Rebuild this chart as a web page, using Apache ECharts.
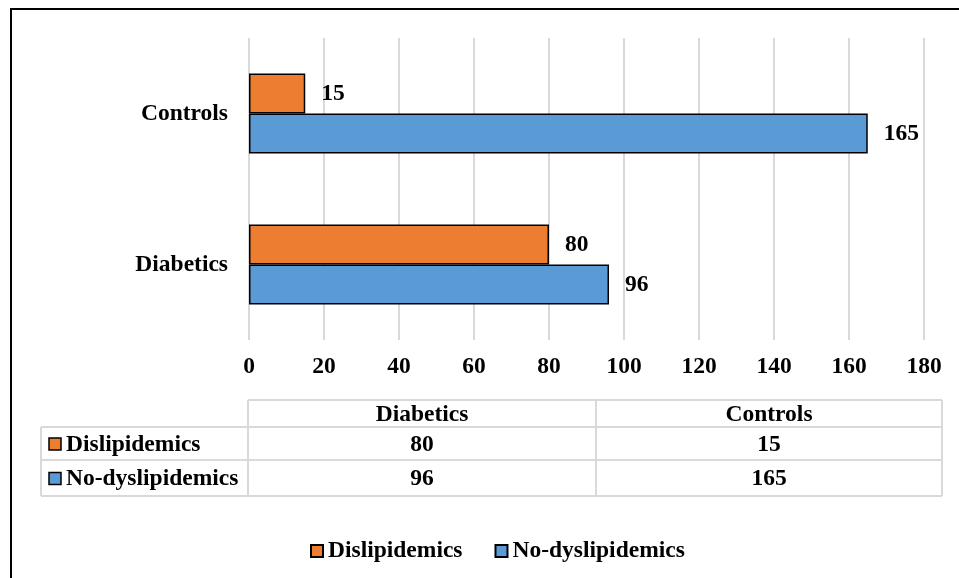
<!DOCTYPE html>
<html>
<head>
<meta charset="utf-8">
<script src="https://cdn.jsdelivr.net/npm/echarts@6/dist/echarts.min.js"></script>
<style>
  html, body { margin: 0; padding: 0; background: #fff; }
  #chart { width: 959px; height: 578px; }
</style>
</head>
<body>
<div id="chart"></div>
<script>
const categories = ['Diabetics', 'Controls'];
const seriesNames = ['Dislipidemics', 'No-dyslipidemics'];
const dislipidemics = [80, 15];
const noDyslipidemics = [96, 165];
const colors = ['#ED7D31', '#5B9BD5'];

const font = 'Liberation Serif, Times New Roman, serif';
const fs = 23.5;

let myChart = echarts.init(document.getElementById('chart'));

// data table under the chart
const colEdges = [41, 248, 596, 942];
const rowEdges = [400, 427, 460, 496];
const gridColor = '#d9d9d9';
let table = [];
function line(x1, y1, x2, y2) {
  table.push({ type: 'line', shape: { x1: x1, y1: y1, x2: x2, y2: y2 }, style: { stroke: gridColor, lineWidth: 2 } });
}
line(colEdges[1], rowEdges[0], colEdges[3], rowEdges[0]);
for (let i = 1; i < rowEdges.length; i++) line(colEdges[0], rowEdges[i], colEdges[3], rowEdges[i]);
line(colEdges[0], rowEdges[1], colEdges[0], rowEdges[3]);
for (let i = 1; i < colEdges.length; i++) line(colEdges[i], rowEdges[0], colEdges[i], rowEdges[3]);

function cellText(txt, x, y, align) {
  table.push({
    type: 'text', x: x, y: y,
    style: { text: txt, font: 'bold ' + fs + 'px ' + font, fill: '#000', align: align || 'center', verticalAlign: 'middle' }
  });
}
categories.forEach((c, j) => {
  const cx = (colEdges[j + 1] + colEdges[j + 2]) / 2;
  cellText(c, cx, (rowEdges[0] + rowEdges[1]) / 2 + 1);
});
const rows = [dislipidemics, noDyslipidemics];
rows.forEach((vals, i) => {
  const cy = (rowEdges[i + 1] + rowEdges[i + 2]) / 2 + 1;
  table.push({
    type: 'rect', shape: { x: 49, y: cy - 6.5, width: 12, height: 12 },
    style: { fill: colors[i], stroke: '#000', lineWidth: 1.5 }
  });
  cellText(seriesNames[i], 66, cy, 'left');
  vals.forEach((v, j) => {
    const cx = (colEdges[j + 1] + colEdges[j + 2]) / 2;
    cellText(String(v), cx, cy);
  });
});

// outer frame
table.push({
  type: 'rect', shape: { x: 11, y: 9, width: 1000, height: 1000 },
  style: { fill: 'none', stroke: '#000', lineWidth: 2 }, z: 100
});

const labelStyle = { fontFamily: font, fontWeight: 'bold', fontSize: fs, color: '#000' };

let options = {
  backgroundColor: '#fff',
  animation: false,
  grid: { left: 249, right: 35, top: 38, bottom: 238, containLabel: false },
  legend: {
    left: 305,
    top: 534,
    icon: 'rect',
    itemWidth: 12,
    itemHeight: 12,
    itemGap: 32,
    data: seriesNames,
    textStyle: labelStyle
  },
  xAxis: {
    type: 'value',
    min: 0,
    max: 180,
    interval: 20,
    axisLine: { show: false },
    axisTick: { show: false },
    splitLine: { lineStyle: { color: gridColor, width: 2 } },
    axisLabel: Object.assign({ margin: 15 }, labelStyle)
  },
  yAxis: {
    type: 'category',
    data: categories,
    axisLine: { show: false },
    axisTick: { show: false },
    axisLabel: Object.assign({ margin: 21 }, labelStyle)
  },
  series: [
    {
      name: seriesNames[0],
      type: 'bar',
      data: dislipidemics,
      barWidth: 40,
      barGap: '0%',
      itemStyle: { color: colors[0], borderColor: '#000', borderWidth: 1.5 },
      label: Object.assign({ show: true, position: 'right', distance: 16 }, labelStyle)
    },
    {
      name: seriesNames[1],
      type: 'bar',
      data: noDyslipidemics,
      barWidth: 40,
      barGap: '0%',
      itemStyle: { color: colors[1], borderColor: '#000', borderWidth: 1.5 },
      label: Object.assign({ show: true, position: 'right', distance: 16 }, labelStyle)
    }
  ],
  graphic: table
};
myChart.setOption(options);
</script>
</body>
</html>
